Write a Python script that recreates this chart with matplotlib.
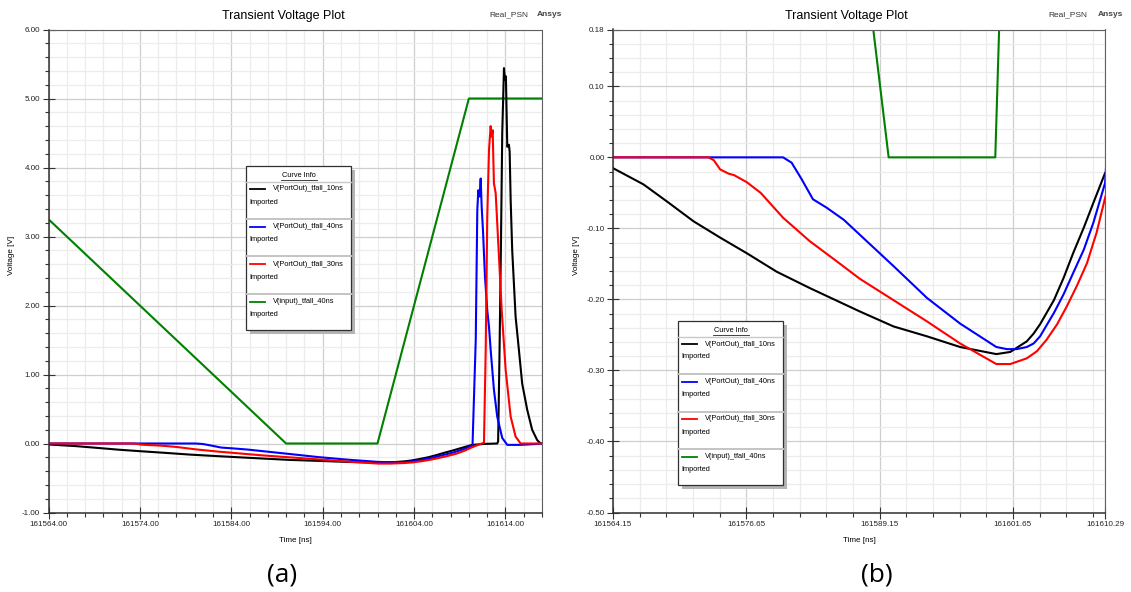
import numpy as np
import matplotlib.pyplot as plt
from matplotlib.patches import Rectangle
from matplotlib.lines import Line2D

# data: time [ns] and voltage [V] for each curve
t_10ns = [161564.0, 161567.0, 161569.2, 161571.7, 161574.2, 161576.7, 161579.5, 161582.6,
          161587.3, 161590.45, 161593.6, 161596.7, 161600.1, 161601.4, 161602.96, 161603.6,
          161604.2, 161605.5, 161606.4, 161607.3, 161608.3, 161609.2, 161610.3, 161611.5,
          161613.1, 161613.2, 161613.35, 161613.5, 161613.65, 161613.84, 161613.95, 161614.05,
          161614.2, 161614.38, 161614.46, 161614.57, 161614.74, 161615.11, 161615.47, 161615.83,
          161616.38, 161616.92, 161617.47, 161617.84, 161618.0]
v_10ns = [-0.014, -0.038, -0.062, -0.090, -0.113, -0.135, -0.161, -0.184,
          -0.217, -0.238, -0.252, -0.267, -0.277, -0.274, -0.259, -0.248,
          -0.235, -0.201, -0.170, -0.135, -0.099, -0.064, -0.022, -0.007,
          0.0, 0.03, 1.3, 2.8, 4.5, 5.44, 5.27, 5.32,
          4.30, 4.33, 4.23, 3.53, 2.80, 1.84, 1.36, 0.87,
          0.49, 0.20, 0.05, 0.0, 0.0]

t_40ns = [161564.0, 161580.1, 161580.9, 161581.85, 161582.9, 161584.2, 161585.8, 161587.3,
          161590.45, 161593.6, 161596.7, 161600.1, 161601.1, 161602.0, 161602.96, 161603.6,
          161604.2, 161605.5, 161606.4, 161607.3, 161608.3, 161609.2, 161610.3, 161610.4,
          161610.56, 161610.75, 161610.92, 161611.03, 161611.18, 161611.29, 161611.40, 161611.54,
          161611.76, 161612.01, 161612.2, 161612.38, 161612.74, 161613.10, 161613.65, 161614.2,
          161615.66, 161617.0, 161618.0]
v_40ns = [0.0, 0.0, -0.0075, -0.031, -0.059, -0.071, -0.088, -0.109,
          -0.153, -0.198, -0.234, -0.267, -0.270, -0.270, -0.267, -0.262,
          -0.252, -0.219, -0.193, -0.163, -0.130, -0.092, -0.036, -0.01,
          0.68, 1.5, 3.38, 3.67, 3.58, 3.84, 3.43, 3.09,
          2.42, 1.93, 1.69, 1.36, 0.78, 0.39, 0.08, -0.02,
          -0.02, -0.01, 0.0]

t_30ns = [161564.0, 161573.1, 161573.6, 161574.2, 161575.0, 161575.5, 161576.7, 161578.0,
          161580.1, 161582.6, 161585.1, 161587.3, 161590.45, 161593.6, 161596.7, 161600.1,
          161601.4, 161602.95, 161603.9, 161604.8, 161605.8, 161606.7, 161607.65, 161608.6,
          161609.5, 161610.3, 161611.3, 161611.65, 161611.84, 161612.01, 161612.2, 161612.38,
          161612.49, 161612.6, 161612.74, 161612.93, 161613.29, 161613.59, 161614.02, 161614.57,
          161615.11, 161615.66, 161618.0]
v_30ns = [0.0, 0.0, -0.004, -0.017, -0.023, -0.025, -0.035, -0.050,
          -0.085, -0.118, -0.146, -0.171, -0.201, -0.231, -0.262, -0.291,
          -0.291, -0.283, -0.273, -0.257, -0.235, -0.210, -0.181, -0.149,
          -0.106, -0.057, -0.005, 0.01, 1.36, 3.29, 4.25, 4.60,
          4.45, 4.54, 3.77, 3.63, 2.71, 1.93, 1.07, 0.39,
          0.10, 0.0, 0.0]

t_input = [161564.0, 161590.0, 161600.0, 161610.0, 161618.0]
v_input = [3.25, 0.0, 0.0, 5.0, 5.0]

names = ['V(PortOut)_tfall_10ns', 'V(PortOut)_tfall_40ns',
         'V(PortOut)_tfall_30ns', 'V(input)_tfall_40ns']
colors = ['#000000', '#0000ff', '#ff0000', '#008000']

W, H = 1131, 592
plt.rcParams['font.family'] = ['Liberation Sans', 'DejaVu Sans']
fig = plt.figure(figsize=(W / 100, H / 100), dpi=100)


def fx(x):
    return x / W


def fy(y):
    return 1 - y / H


def style(ax, xlim, ylim, xmaj, xmin, ymaj, ymin):
    ax.set_xlim(xlim)
    ax.set_ylim(ylim)
    ax.set_xticks(xmaj)
    ax.set_xticks(xmin, minor=True)
    ax.set_yticks(ymaj)
    ax.set_yticks(ymin, minor=True)
    ax.set_xticklabels([f'{v:.2f}' for v in xmaj])
    ax.set_yticklabels([f'{v:.2f}' for v in ymaj])
    ax.grid(which='major', color='#cfcfcf', lw=0.9)
    ax.grid(which='minor', color='#ececec', lw=0.9)
    ax.set_axisbelow(True)
    ax.tick_params(which='major', direction='inout', length=8, width=0.8,
                   labelsize=5.8, color='#333333', labelcolor='#222222', pad=2)
    ax.tick_params(which='minor', direction='out', length=3, width=0.8, color='#333333')
    for side in ['left', 'bottom']:
        ax.spines[side].set_color('#303030')
        ax.spines[side].set_linewidth(1.1)
    for side in ['top', 'right']:
        ax.spines[side].set_color('#606060')
        ax.spines[side].set_linewidth(0.8)


def plot_curves(ax):
    ax.plot(t_input, v_input, color=colors[3], lw=1.5)
    ax.plot(t_10ns, v_10ns, color=colors[0], lw=1.5)
    ax.plot(t_40ns, v_40ns, color=colors[1], lw=1.5)
    ax.plot(t_30ns, v_30ns, color=colors[2], lw=1.5)


def curve_info(left, top):
    w, h = 105, 164
    fig.add_artist(Rectangle((fx(left + 4), fy(top + h + 4)), w / W, h / H,
                             transform=fig.transFigure, facecolor='#b4b4b4',
                             edgecolor='none', zorder=5))
    fig.add_artist(Rectangle((fx(left), fy(top + h)), w / W, h / H,
                             transform=fig.transFigure, facecolor='white',
                             edgecolor='#303030', lw=0.9, zorder=6))
    fig.text(fx(left + w / 2), fy(top + 9.5), 'Curve Info', fontsize=5.3,
             ha='center', va='center', zorder=7)
    fig.add_artist(Line2D([fx(left + 35), fx(left + 71)], [fy(top + 13.5)] * 2,
                          transform=fig.transFigure, color='#222222', lw=0.6, zorder=7))
    fig.add_artist(Line2D([fx(left), fx(left + w)], [fy(top + 15.5)] * 2,
                          transform=fig.transFigure, color='#c8c8c8', lw=1.0, zorder=7))
    for i, (name, c) in enumerate(zip(names, colors)):
        y = top + 23 + 37.5 * i
        fig.add_artist(Line2D([fx(left + 4), fx(left + 19)], [fy(y)] * 2,
                              transform=fig.transFigure, color=c, lw=1.3, zorder=7))
        fig.text(fx(left + 27), fy(y), name, fontsize=5.3, ha='left', va='center', zorder=7)
        fig.text(fx(left + 3), fy(y + 13), 'Imported', fontsize=5.3, ha='left',
                 va='center', zorder=7)
        if i < 3:
            fig.add_artist(Line2D([fx(left), fx(left + w)], [fy(y + 30)] * 2,
                                  transform=fig.transFigure, color='#c4c4c4', lw=1.4,
                                  zorder=7))


# panel (a)
ax_a = fig.add_axes([fx(48.5), fy(512.5), (542 - 48.5) / W, (512.5 - 29.5) / H])
plot_curves(ax_a)
style(ax_a, (161564.0, 161618.0), (-1.0, 6.0),
      np.arange(161564.0, 161615.0, 10.0), np.arange(161564.0, 161618.1, 2.0),
      np.arange(-1.0, 6.01, 1.0), np.arange(-1.0, 6.01, 0.2))

# panel (b)
ax_b = fig.add_axes([fx(613), fy(512.5), (1105 - 613) / W, (512.5 - 29.5) / H])
plot_curves(ax_b)
style(ax_b, (161564.15, 161610.29), (-0.5, 0.18),
      [161564.15, 161576.65, 161589.15, 161601.65, 161610.29],
      np.arange(161564.15, 161610.29, 2.5),
      [-0.5, -0.4, -0.3, -0.2, -0.1, 0.0, 0.1, 0.18], np.arange(-0.5, 0.181, 0.02))

# titles and labels
for x_title, x_real, x_ansys, x_mid, x_ylab, tag, x_tag in [
        (283, 489, 537, 295, 12, '(a)', 282), (846, 1048, 1098, 859, 577, '(b)', 877)]:
    fig.text(fx(x_title), fy(16), 'Transient Voltage Plot', fontsize=9, ha='center', va='center')
    fig.text(fx(x_real), fy(15), 'Real_PSN', fontsize=6, ha='left', va='center', color='#333333')
    fig.text(fx(x_ansys), fy(14), 'Ansys', fontsize=6, ha='left', va='center',
             color='#444444', fontweight='bold')
    fig.text(fx(x_mid), fy(541), 'Time [ns]', fontsize=5.8, ha='center', va='center')
    fig.text(fx(x_ylab), fy(255), 'Voltage [V]', fontsize=5.8, ha='center', va='center',
             rotation=90)
    fig.text(fx(x_tag), fy(575), tag, fontsize=19, ha='center', va='center',
             family=['Open Sans', 'DejaVu Sans'])

curve_info(246, 166)
curve_info(678, 321)

plt.savefig('out.png', dpi=100)
